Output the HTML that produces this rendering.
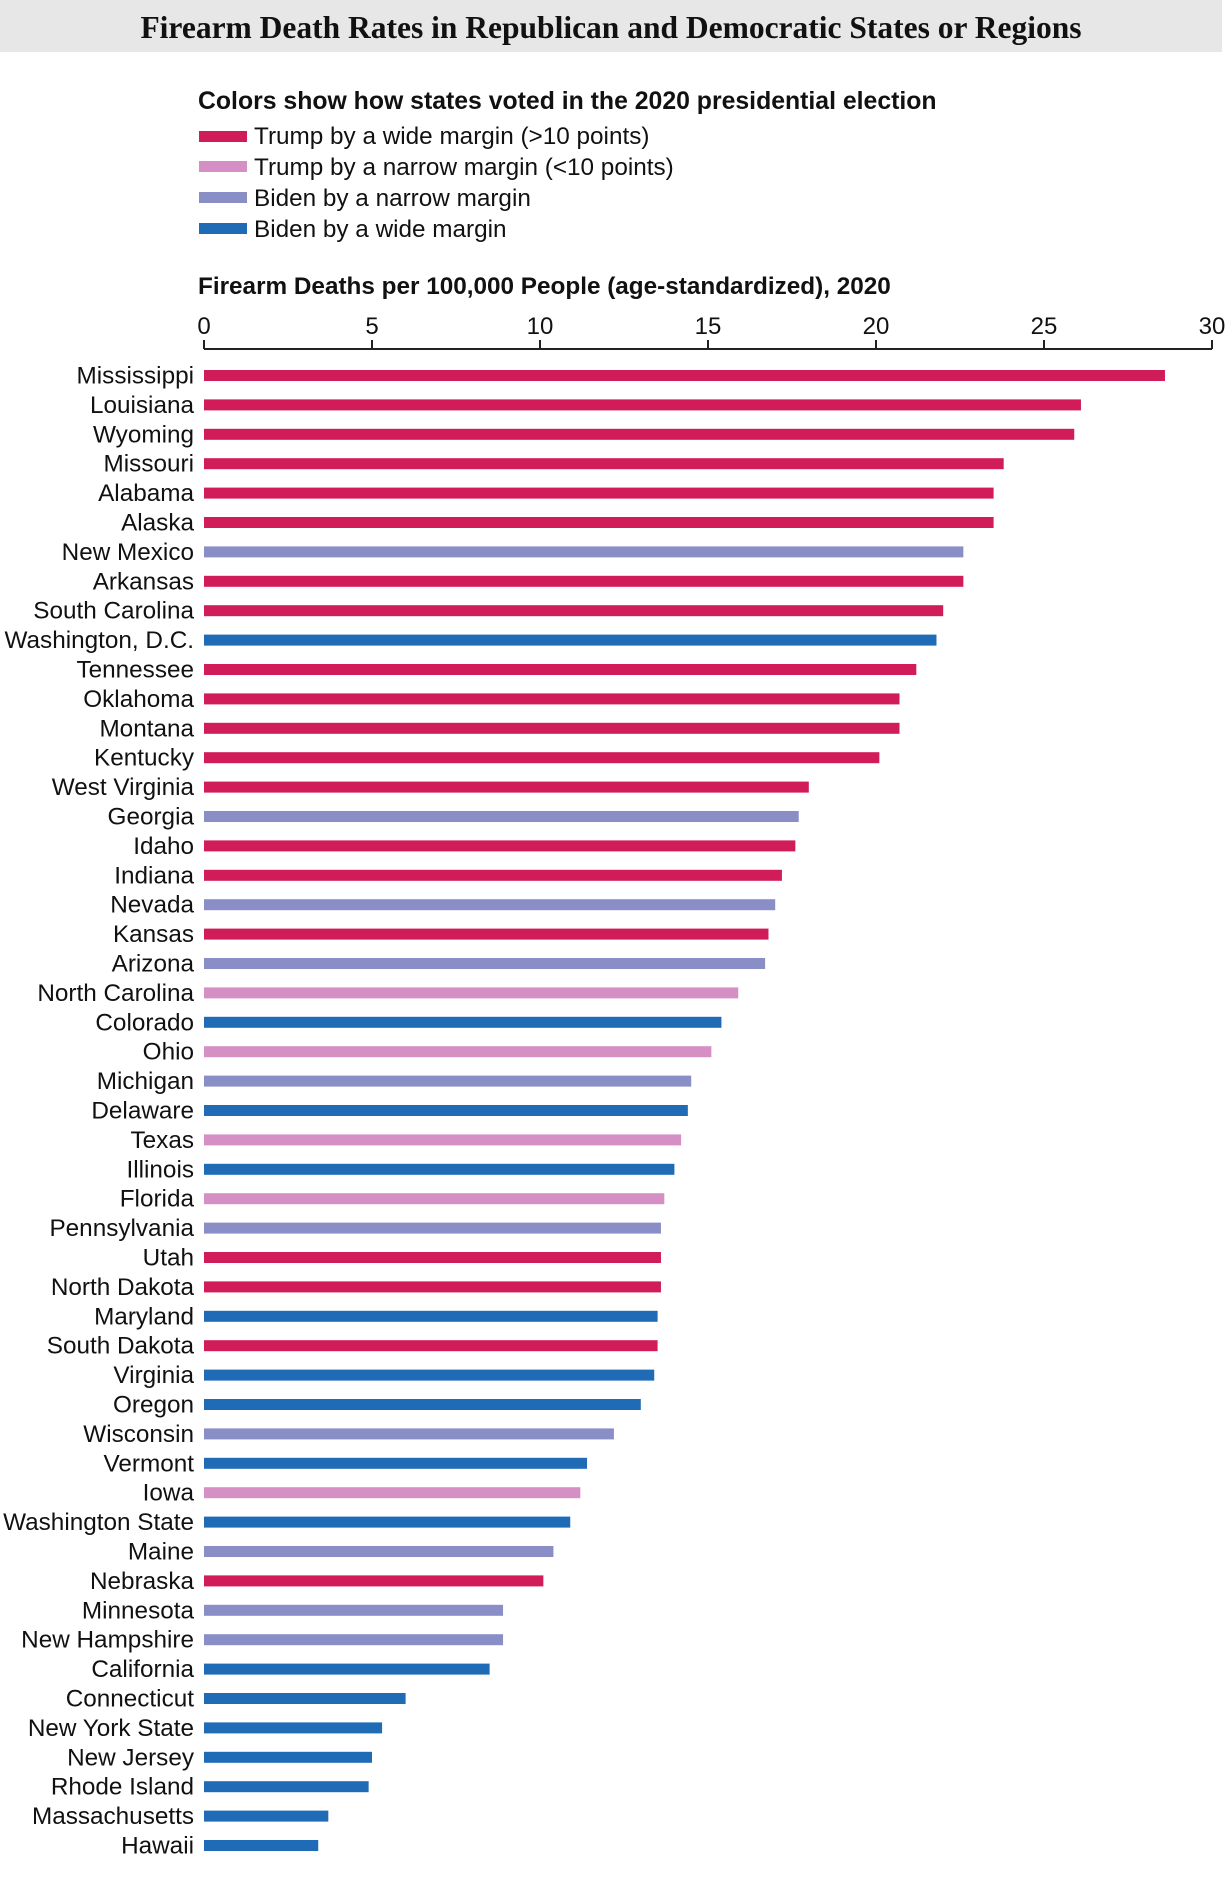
<!DOCTYPE html>
<html><head><meta charset="utf-8"><style>
body{margin:0;background:#fff;}
svg{display:block;font-family:"Liberation Sans",sans-serif;}
</style></head><body>
<svg width="1230" height="1897" viewBox="0 0 1230 1897" xmlns="http://www.w3.org/2000/svg">
<rect x="0" y="0" width="1222" height="52" fill="#e6e7e6"/>
<text x="611" y="38" text-anchor="middle" font-family="Liberation Serif, serif" font-weight="bold" font-size="31.5" fill="#111">Firearm Death Rates in Republican and Democratic States or Regions</text>
<text x="198" y="109" font-weight="bold" font-size="24.8" fill="#111">Colors show how states voted in the 2020 presidential election</text>
<g font-size="24.3" fill="#111">
<rect x="199" y="131" width="48" height="11" fill="#d01c58"/><text x="254" y="144">Trump by a wide margin (&gt;10 points)</text>
<rect x="199" y="161" width="48" height="11" fill="#d58fc4"/><text x="254" y="175">Trump by a narrow margin (&lt;10 points)</text>
<rect x="199" y="192" width="48" height="11" fill="#8a8ec6"/><text x="254" y="206">Biden by a narrow margin</text>
<rect x="199" y="223" width="48" height="11" fill="#1f6bb5"/><text x="254" y="237">Biden by a wide margin</text>
</g>
<text x="198" y="294" font-weight="bold" font-size="24.3" fill="#111">Firearm Deaths per 100,000 People (age-standardized), 2020</text>
<g id="axis" fill="#111" font-size="24" text-anchor="middle"></g>
<g id="bars"></g>
</svg>
<script>
var ns="http://www.w3.org/2000/svg";
var ax=document.getElementById("axis"),bars=document.getElementById("bars");
var x0=204,k=33.6;
function el(t,a,p,txt){var e=document.createElementNS(ns,t);for(var q in a)e.setAttribute(q,a[q]);if(txt!=null)e.textContent=txt;p.appendChild(e);return e;}
el("line",{x1:x0,x2:x0+30*k,y1:349,y2:349,stroke:"#222","stroke-width":2},ax);
for(var v=0;v<=30;v+=5){var x=x0+v*k;el("line",{x1:x,x2:x,y1:340,y2:349,stroke:"#222","stroke-width":2},ax);el("text",{x:x,y:334},ax,String(v));}
var C={R:"#d01c58",r:"#d58fc4",b:"#8a8ec6",B:"#1f6bb5"};
var d=[["Mississippi",28.6,"R"],["Louisiana",26.1,"R"],["Wyoming",25.9,"R"],["Missouri",23.8,"R"],["Alabama",23.5,"R"],["Alaska",23.5,"R"],["New Mexico",22.6,"b"],["Arkansas",22.6,"R"],["South Carolina",22.0,"R"],["Washington, D.C.",21.8,"B"],["Tennessee",21.2,"R"],["Oklahoma",20.7,"R"],["Montana",20.7,"R"],["Kentucky",20.1,"R"],["West Virginia",18.0,"R"],["Georgia",17.7,"b"],["Idaho",17.6,"R"],["Indiana",17.2,"R"],["Nevada",17.0,"b"],["Kansas",16.8,"R"],["Arizona",16.7,"b"],["North Carolina",15.9,"r"],["Colorado",15.4,"B"],["Ohio",15.1,"r"],["Michigan",14.5,"b"],["Delaware",14.4,"B"],["Texas",14.2,"r"],["Illinois",14.0,"B"],["Florida",13.7,"r"],["Pennsylvania",13.6,"b"],["Utah",13.6,"R"],["North Dakota",13.6,"R"],["Maryland",13.5,"B"],["South Dakota",13.5,"R"],["Virginia",13.4,"B"],["Oregon",13.0,"B"],["Wisconsin",12.2,"b"],["Vermont",11.4,"B"],["Iowa",11.2,"r"],["Washington State",10.9,"B"],["Maine",10.4,"b"],["Nebraska",10.1,"R"],["Minnesota",8.9,"b"],["New Hampshire",8.9,"b"],["California",8.5,"B"],["Connecticut",6.0,"B"],["New York State",5.3,"B"],["New Jersey",5.0,"B"],["Rhode Island",4.9,"B"],["Massachusetts",3.7,"B"],["Hawaii",3.4,"B"]];
d.forEach(function(r,i){var y=375.5+i*29.4;
el("rect",{x:x0,y:y-5.5,width:r[1]*k,height:11,fill:C[r[2]]},bars);
el("text",{x:194,y:y+8,"text-anchor":"end","font-size":24.3,fill:"#111"},bars,r[0]);});
</script>
</body></html>
